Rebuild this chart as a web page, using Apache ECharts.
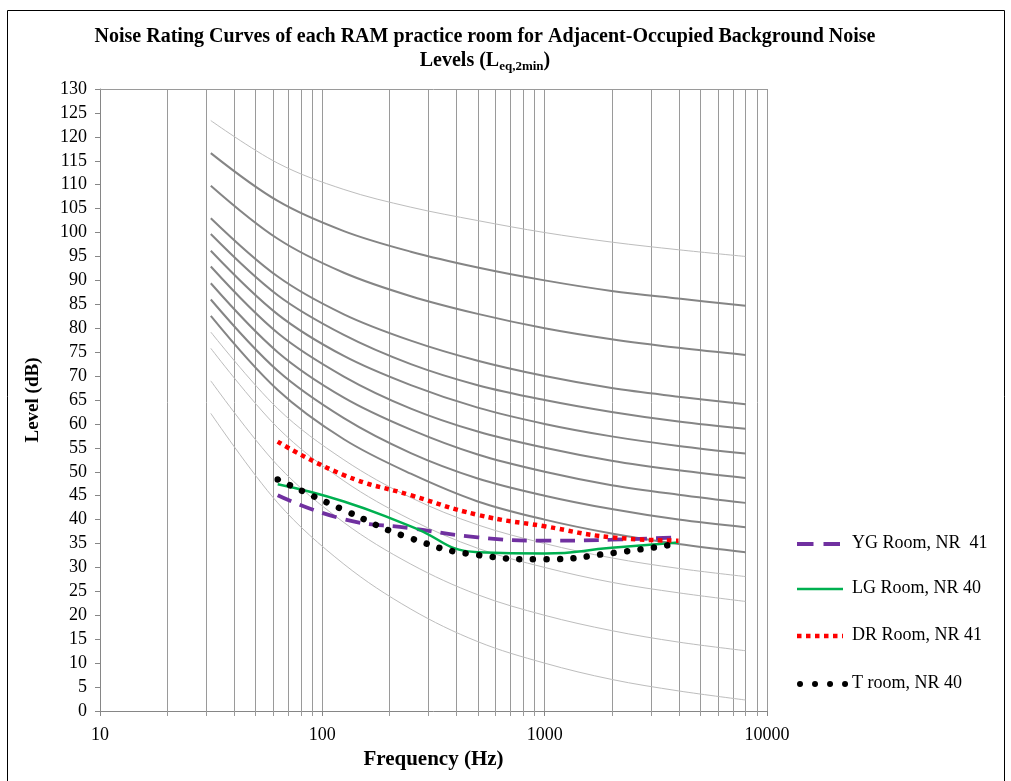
<!DOCTYPE html>
<html>
<head>
<meta charset="utf-8">
<script src="https://cdn.jsdelivr.net/npm/echarts@6/dist/echarts.min.js"></script>
<style>
  html, body { margin: 0; padding: 0; background: #fff; }
  #chart { width: 1011px; height: 781px; }
</style>
</head>
<body>
<div id="chart"></div>
<script>
// Octave-band centre frequencies (Hz) of the NR curves
const octaveBands = [31.5, 63, 125, 250, 500, 1000, 2000, 4000, 8000];

// Noise Rating reference curves, dB per octave band
const nr10  = [62.2, 43.5, 30.7, 21.3, 14.5, 10.0, 6.6, 4.2, 2.3];
const nr20  = [69.0, 51.3, 39.4, 30.7, 24.3, 20.0, 16.8, 14.4, 12.6];
const nr30  = [75.8, 59.2, 48.1, 40.0, 34.0, 30.0, 26.9, 24.7, 22.9];
const nr35  = [79.2, 63.2, 52.5, 44.6, 38.9, 35.0, 32.0, 29.8, 28.1];
const nr40  = [82.6, 67.1, 56.8, 49.6, 43.8, 40.0, 37.1, 34.9, 33.2];
const nr45  = [86.0, 71.1, 61.2, 53.9, 48.6, 45.0, 42.2, 40.0, 38.4];
const nr50  = [89.4, 75.0, 65.5, 58.8, 53.6, 50.0, 47.2, 45.2, 43.5];
const nr55  = [92.9, 79.0, 69.9, 63.2, 58.4, 55.0, 52.3, 50.3, 48.7];
const nr60  = [96.2, 82.9, 74.2, 68.1, 63.4, 60.0, 57.4, 55.4, 53.8];
const nr65  = [99.7, 86.9, 78.6, 72.5, 68.1, 65.0, 62.5, 60.5, 59.0];
const nr70  = [103.0, 90.8, 82.9, 77.4, 73.2, 70.0, 67.5, 65.7, 64.1];
const nr80  = [109.8, 98.7, 91.6, 86.7, 83.0, 80.0, 77.7, 75.9, 74.4];
const nr90  = [116.6, 106.6, 100.3, 96.0, 92.7, 90.0, 87.8, 86.2, 84.7];
const nr100 = [123.4, 114.5, 109.0, 105.3, 102.5, 100.0, 98.0, 96.4, 95.0];

const thinCurves  = [nr100, nr10, nr20, nr30, nr35];
const thickCurves = [nr40, nr45, nr50, nr55, nr60, nr65, nr70, nr80, nr90];

// Measured room spectra (Leq,2min), 63 Hz - 4 kHz
const roomBands = [63, 125, 250, 500, 1000, 2000, 4000];
const roomNames = ['YG Room, NR  41', 'LG Room, NR 40', 'DR Room, NR 41', 'T room, NR 40'];
const ygRoom = [45.1, 40.1, 38.2, 36.3, 35.6, 35.8, 36.3];
const lgRoom = [47.4, 43.8, 38.6, 33.2, 32.9, 34.1, 35.2];
const drRoom = [56.3, 49.3, 45.1, 41.0, 38.6, 36.3, 35.6];
const tRoom  = [48.4, 42.0, 36.1, 32.6, 31.7, 33.0, 35.0];

// Intermediate frequencies drawn as vertical grid lines on the log axis
const minorFreqs = [20, 30, 40, 50, 60, 70, 80, 90,
                    200, 300, 400, 500, 600, 700, 800, 900,
                    2000, 3000, 4000, 5000, 6000, 7000, 8000, 9000];

const serif = '"Liberation Serif", "Times New Roman", serif';
const pairs = (xs, ys) => xs.map((x, i) => [x, ys[i]]);

// line styles of the four rooms (shared by the plot and the key)
const roomStyles = [
  { color: '#7030a0', width: 3.8, dash: [15, 9], cap: 'butt' },
  { color: '#00b050', width: 2.5, dash: null, cap: 'butt' },
  { color: '#ff0000', width: 4.5, dash: [4.5, 4.5], cap: 'butt' },
  { color: '#000000', width: 6.5, dash: [0.01, 13.5], cap: 'round' }
];
const roomData = [ygRoom, lgRoom, drRoom, tRoom];

function curveSeries(values, width, color) {
  return {
    type: 'line', data: pairs(octaveBands, values), smooth: 0.35,
    symbol: 'none', silent: true, z: 2,
    lineStyle: { width: width, color: color }
  };
}

const series = [];

// vertical grid lines at the intermediate frequencies, each with a short tick below the axis
series.push({
  type: 'custom', silent: true, z: 1, clip: false,
  data: minorFreqs.map(f => [f]),
  encode: { x: 0 },
  renderItem: (params, api) => {
    const f = api.value(0);
    const bottom = api.coord([f, 0]);
    const top = api.coord([f, 130]);
    const x = Math.round(bottom[0]) + 0.5;
    return {
      type: 'line',
      shape: { x1: x, y1: bottom[1] + 5, x2: x, y2: top[1] },
      style: { stroke: '#9a9a9a', lineWidth: 1 }
    };
  }
});

thinCurves.forEach(c => series.push(curveSeries(c, 1, '#bdbdbd')));
thickCurves.forEach(c => series.push(curveSeries(c, 2, '#858585')));

roomNames.forEach((name, i) => {
  const s = roomStyles[i];
  series.push({
    name: name, type: 'line', data: pairs(roomBands, roomData[i]), smooth: 0.5,
    symbol: 'none', z: 5 + i,
    lineStyle: { width: s.width, color: s.color, type: s.dash || 'solid', cap: s.cap },
    itemStyle: { color: s.color }
  });
});

// key on the right
const keyRows = [544, 589, 636, 684];
const keyGraphics = [];
roomNames.forEach((name, i) => {
  const s = roomStyles[i];
  const y = keyRows[i];
  const keyDash = i === 0 ? [16.5, 10] : (i === 3 ? [0.01, 15] : s.dash);
  keyGraphics.push({
    type: 'line', silent: true, z: 10,
    shape: i === 3 ? { x1: 800, y1: y, x2: 846, y2: y } : { x1: 797, y1: y, x2: 843, y2: y },
    style: { stroke: s.color, lineWidth: i === 3 ? 6 : s.width, lineDash: keyDash, lineCap: s.cap }
  });
  keyGraphics.push({
    type: 'text', silent: true, z: 10, left: 852, top: y - 10,
    style: { text: name, font: '18px ' + serif, fill: '#000' }
  });
});

const chart = echarts.init(document.getElementById('chart'), null, { renderer: 'canvas' });
chart.setOption({
  animation: false,
  backgroundColor: '#ffffff',
  title: {
    text: 'Noise Rating Curves of each RAM practice room for Adjacent-Occupied Background Noise\nLevels (L{sub|eq,2min})',
    left: 480, top: 20, textAlign: 'center',
    textStyle: {
      fontFamily: serif, fontWeight: 'bold', fontSize: 20, color: '#000', lineHeight: 24,
      rich: { sub: { fontFamily: serif, fontWeight: 'bold', fontSize: 13, color: '#000', verticalAlign: 'bottom', padding: [9, 0, 0, 0] } }
    }
  },
  graphic: [{
    type: 'rect', silent: true, z: 0,
    shape: { x: 7.5, y: 10.5, width: 997, height: 790 },
    style: { fill: 'none', stroke: '#000', lineWidth: 1 }
  }].concat(keyGraphics),
  grid: { left: 100, right: 244, top: 89, bottom: 70, containLabel: false },
  xAxis: [{
    type: 'log', logBase: 10, min: 10, max: 10000,
    name: 'Frequency (Hz)', nameLocation: 'middle', nameGap: 37,
    nameTextStyle: { fontFamily: serif, fontWeight: 'bold', fontSize: 21, color: '#000' },
    axisLine: { show: true, lineStyle: { color: '#868686', width: 1 } },
    axisTick: { show: true, length: 5, lineStyle: { color: '#868686' } },
    axisLabel: { fontFamily: serif, fontSize: 18, color: '#000', margin: 15, formatter: v => String(v) },
    splitLine: { show: true, lineStyle: { color: '#9a9a9a', width: 1 } },
    minorTick: { show: false }, minorSplitLine: { show: false }
  }, {
    type: 'log', logBase: 10, min: 10, max: 10000, position: 'top',
    axisLine: { show: true, lineStyle: { color: '#9a9a9a', width: 1 } },
    axisTick: { show: false }, axisLabel: { show: false }, splitLine: { show: false }
  }],
  yAxis: {
    type: 'value', min: 0, max: 130, interval: 5,
    name: 'Level (dB)', nameLocation: 'middle', nameGap: 57,
    nameTextStyle: { fontFamily: serif, fontWeight: 'bold', fontSize: 19, color: '#000' },
    axisLine: { show: true, lineStyle: { color: '#868686', width: 1 } },
    axisTick: { show: true, length: 5, inside: false, lineStyle: { color: '#868686' } },
    axisLabel: { fontFamily: serif, fontSize: 18, color: '#000', margin: 13 },
    splitLine: { show: false }
  },
  series: series
});
</script>
</body>
</html>
